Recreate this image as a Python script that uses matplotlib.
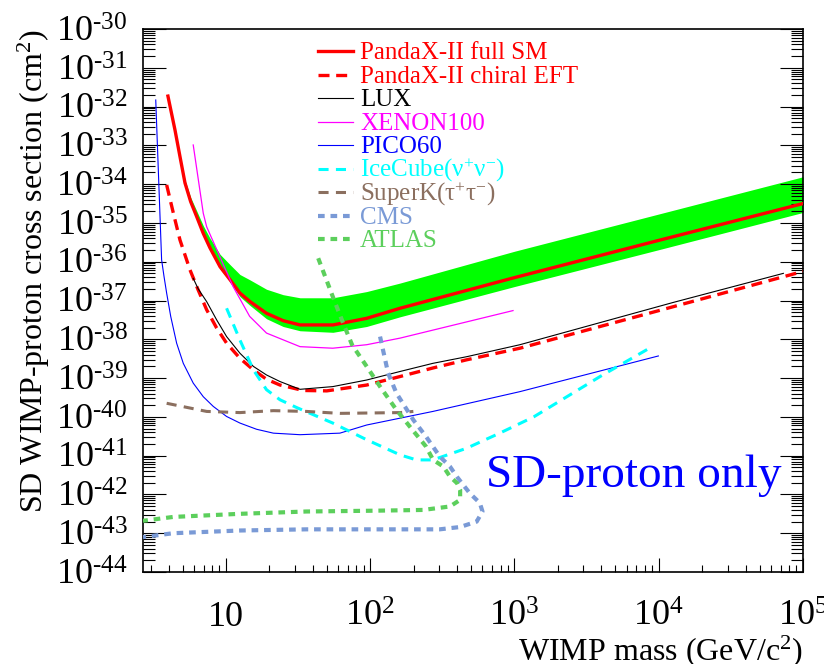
import numpy as np
import matplotlib
matplotlib.use('Agg')
import matplotlib.pyplot as plt
from matplotlib.lines import Line2D
from matplotlib.ticker import LogLocator, NullFormatter

plt.rcParams['font.family'] = ['Liberation Serif', 'DejaVu Serif']
plt.rcParams['mathtext.fontset'] = 'custom'
plt.rcParams['mathtext.rm'] = 'Liberation Serif'
plt.rcParams['mathtext.it'] = 'Liberation Serif:italic'
plt.rcParams['mathtext.bf'] = 'Liberation Serif:bold'
plt.rcParams['axes.unicode_minus'] = False

# ---------------- data (mass in GeV, log10 of cross section in cm^2) ----------------
sm_mass = [3.96, 4.43, 4.8, 5.2, 5.69, 6.27, 6.96, 7.74, 9.1, 10.7, 12.5, 14.7, 19.1, 24.9,
           32.6, 55.2, 94.4, 161, 1000, 1e4, 1e5]
sm_log = [-31.73, -32.60, -33.29, -33.97, -34.45, -34.84, -35.27, -35.64, -36.13, -36.47,
          -36.81, -37.03, -37.33, -37.52, -37.63, -37.63, -37.46, -37.20, -36.41, -35.45, -34.50]

band_mass = [4.43, 4.8, 5.2, 5.69, 6.27, 6.96, 7.74, 9.1, 10.7, 12.5, 14.7, 19.1, 24.9, 32.6,
             55.2, 94.4, 161, 1000, 1e4, 1e5]
band_up_log = [-32.60, -33.26, -33.89, -34.34, -34.69, -35.07, -35.39, -35.81, -36.08, -36.33,
               -36.47, -36.71, -36.85, -36.93, -36.93, -36.77, -36.55, -35.73, -34.77, -33.81]
band_lo_log = [-32.65, -33.34, -34.02, -34.50, -34.89, -35.32, -35.69, -36.18, -36.52, -36.90,
               -37.13, -37.47, -37.67, -37.78, -37.82, -37.67, -37.42, -36.64, -35.69, -34.73]

eft_mass = [3.88, 4.32, 4.8, 5.63, 6.42, 7.35, 8.62, 10.1, 12.5, 15.5, 19.1, 23.7, 34.3, 50,
            94.5, 161, 272, 465, 1090, 12600, 1e5]
eft_log = [-34.02, -34.75, -35.44, -36.21, -36.73, -37.24, -37.71, -38.10, -38.49, -38.79,
           -39.03, -39.18, -39.32, -39.33, -39.18, -38.96, -38.74, -38.53, -38.23, -37.16, -36.25]

lux_mass = [5.93, 6.42, 7.35, 8.62, 10.1, 12.5, 15.5, 19.1, 23.7, 32.6, 55, 94.5, 161, 272,
            465, 1090, 12600, 73100]
lux_log = [-36.43, -36.70, -37.03, -37.50, -37.93, -38.36, -38.70, -38.92, -39.09, -39.29,
           -39.22, -39.05, -38.83, -38.62, -38.45, -38.14, -37.05, -36.30]

xe_mass = [5.93, 6.96, 7.35, 11.2, 14.6, 19.1, 32.6, 55, 94.5, 161, 977]
xe_log = [-32.99, -34.75, -35.10, -36.64, -37.41, -37.84, -38.19, -38.23, -38.14, -37.97, -37.26]

pico_mass = [3.26, 3.58, 3.72, 3.88, 4.14, 4.55, 5.06, 5.93, 6.96, 8.16, 10.1, 12.5, 16.3,
             21.3, 32.6, 61.6, 94.5, 272, 1090, 9940]
pico_log = [-31.83, -35.95, -36.38, -36.81, -37.41, -38.10, -38.62, -39.13, -39.48, -39.73,
            -39.99, -40.16, -40.32, -40.42, -40.46, -40.42, -40.21, -39.86, -39.35, -38.43]

ice_mass = [10.1, 12.5, 15.5, 19.1, 23.7, 30.9, 55, 94.5, 161, 209, 272, 465, 790, 1360,
            3920, 8900]
ice_log = [-37.20, -38.02, -38.79, -39.30, -39.56, -39.76, -40.16, -40.59, -40.98, -41.11,
           -41.11, -40.81, -40.42, -40.00, -38.96, -38.20]

sk_mass = [3.88, 7.35, 12.5, 21.3, 36.2, 61.6, 161, 199]
sk_log = [-39.65, -39.86, -39.89, -39.84, -39.86, -39.91, -39.89, -39.86]

cms_mass = [117, 133, 152, 199, 244, 303, 357, 400, 490, 575, 600, 547, 420, 303, 105, 36.2,
            12.5, 4.31, 2.66]
cms_log = [-37.93, -38.87, -39.39, -40.08, -40.51, -41.02, -41.28, -41.55, -41.97, -42.22,
           -42.44, -42.70, -42.84, -42.90, -42.90, -42.90, -42.93, -43.00, -43.10]

atlas_mass = [43.6, 55, 65, 75, 94.5, 117, 152, 188, 243, 273, 321, 357, 400, 420, 420, 357,
              233, 105, 36.2, 12.5, 4.31, 2.66]
atlas_log = [-35.91, -36.90, -37.59, -38.15, -38.70, -39.22, -39.82, -40.25, -40.76, -41.11,
             -41.28, -41.54, -41.71, -41.88, -42.14, -42.31, -42.40, -42.42, -42.44, -42.50,
             -42.58, -42.68]

x_tick_vals = [10, 1e2, 1e3, 1e4, 1e5]
x_tick_labels = ['10', r'$10^{2}$', r'$10^{3}$', r'$10^{4}$', r'$10^{5}$']
y_exps = list(range(-44, -29))

labels = ['PandaX-II full SM', 'PandaX-II chiral EFT', 'LUX', 'XENON100', 'PICO60',
          r'IceCube($\mathrm{\nu}^{+}\mathrm{\nu}^{-}$)', r'SuperK($\mathrm{\tau}^{+}\mathrm{\tau}^{-}$)',
          'CMS', 'ATLAS']

# ---------------- styles ----------------
RED = '#ff0000'
GREEN_BAND = '#00ff00'
MAG = '#ff00ff'
BLUE = '#0000ff'
CYAN = '#00ffff'
BROWN = '#8b6f5f'
CMSC = '#7a9ad6'
ATLC = '#5ccf5c'

styles = [
    dict(color=RED, lw=2.4, ls='-'),
    dict(color=RED, lw=2.4, dashes=(3.3, 2.0)),
    dict(color='black', lw=0.8, ls='-'),
    dict(color=MAG, lw=0.9, ls='-'),
    dict(color=BLUE, lw=0.8, ls='-'),
    dict(color=CYAN, lw=2.2, dashes=(3.3, 2.4)),
    dict(color=BROWN, lw=2.2, dashes=(3.3, 2.4)),
    dict(color=CMSC, lw=3.0, dashes=(1.6, 1.4)),
    dict(color=ATLC, lw=3.0, dashes=(1.6, 1.4)),
]
series = [(sm_mass, sm_log), (eft_mass, eft_log), (lux_mass, lux_log), (xe_mass, xe_log),
          (pico_mass, pico_log), (ice_mass, ice_log), (sk_mass, sk_log),
          (cms_mass, cms_log), (atlas_mass, atlas_log)]

W, H = 824, 664
fig = plt.figure(figsize=(W / 100, H / 100), dpi=100)
L, R, T, B = 143, 803, 29, 572
ax = fig.add_axes([L / W, 1 - B / H, (R - L) / W, (B - T) / H])
ax.set_xscale('log')
ax.set_yscale('log')

ax.fill_between(band_mass, 10.0 ** np.array(band_lo_log), 10.0 ** np.array(band_up_log),
                color=GREEN_BAND, lw=0, zorder=1)

order = [2, 3, 4, 5, 6, 1, 0, 7, 8]
for i in order:
    m, lg = series[i]
    ax.plot(m, 10.0 ** np.array(lg), zorder=3 + i * 0.1, solid_joinstyle='round', **styles[i])

ax.set_xlim(2.66, 1e5)
ax.set_ylim(1e-44, 1e-30)

ax.set_xticks(x_tick_vals, x_tick_labels, va='baseline')
ax.set_yticks([10.0 ** e for e in y_exps], [r'$10^{\text{-}%d}$' % abs(e) for e in y_exps])
ax.xaxis.set_minor_locator(LogLocator(base=10, subs=np.arange(2, 10), numticks=200))
ax.yaxis.set_minor_locator(LogLocator(base=10, subs=np.arange(2, 10), numticks=200))
ax.xaxis.set_minor_formatter(NullFormatter())
ax.yaxis.set_minor_formatter(NullFormatter())

ax.tick_params(axis='x', which='major', direction='in', length=10, width=0.8, top=False,
               labelsize=26, pad=39)
ax.tick_params(axis='x', which='minor', direction='in', length=5, width=0.8, top=False)
ax.tick_params(axis='y', which='major', direction='in', length=16.5, width=0.8, left=True,
               right=True, labelsize=26, pad=11)
ax.tick_params(axis='y', which='minor', direction='in', length=8.6, width=0.8, left=True, right=True)
for sp in ax.spines.values():
    sp.set_linewidth(1.2)

ax.set_xlabel(r'WIMP mass (GeV/c$^{2}$)', fontsize=23, loc='right')
ax.xaxis.set_label_coords(1.0, (B - 633) / (B - T))
ax.set_ylabel(r'SD WIMP-proton cross section (cm$^{2}$)', fontsize=23, loc='top')
ax.yaxis.set_label_coords((52 - L) / (R - L), 1.0)

# legend drawn manually
for i, lab in enumerate(labels):
    yc = 51 + 23.5 * i
    yf = (B - yc) / (B - T)
    ax.add_line(Line2D([(318 - L) / (R - L), (353 - L) / (R - L)], [yf, yf],
                       transform=ax.transAxes, **styles[i]))
    ax.text((360 - L) / (R - L), (B - (yc + 8.3)) / (B - T), lab, transform=ax.transAxes,
            color=styles[i]['color'], fontsize=18, va='baseline', ha='left')

ax.text((486 - L) / (R - L), (B - 487) / (B - T), 'SD-proton only', transform=ax.transAxes,
        color=BLUE, fontsize=34, va='baseline', ha='left')

fig.savefig('out.png', dpi=100, facecolor='white')
